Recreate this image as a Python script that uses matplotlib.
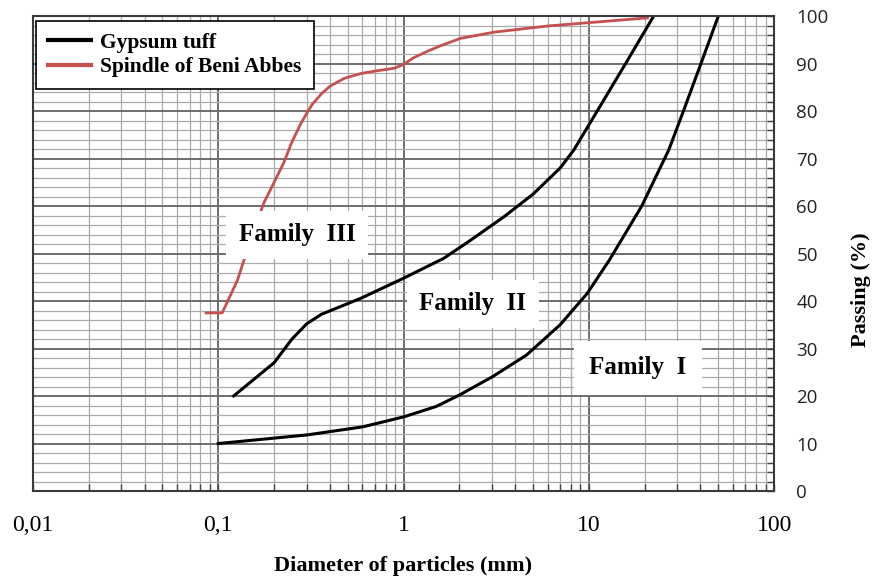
import numpy as np
import matplotlib
matplotlib.use("Agg")
import matplotlib.pyplot as plt
from matplotlib.ticker import FixedLocator, NullFormatter

# grading curves, diameter (mm) vs passing (%)
fam1_d = [0.1, 0.3, 0.6, 1.0, 1.5, 2.0, 3.0, 4.6, 7.0, 9.8, 12.9, 19.3, 27.0, 32.4, 40.3, 50.0]
fam1_p = [10.0, 11.8, 13.5, 15.6, 17.8, 20.2, 24.0, 28.6, 35.0, 41.6, 48.6, 60.0, 71.8, 80.0, 90.0, 100.0]

fam2_d = [0.121, 0.2, 0.25, 0.3, 0.36, 0.59, 1.0, 1.65, 2.3, 3.5, 5.0, 7.0, 8.3, 11.1, 15.8, 22.4]
fam2_p = [20.0, 27.0, 32.0, 35.2, 37.2, 40.6, 44.8, 49.0, 52.8, 57.8, 62.5, 68.0, 71.8, 80.0, 90.0, 100.0]

beni_d = [0.086, 0.105, 0.127, 0.149, 0.176, 0.225, 0.25, 0.28, 0.32, 0.36, 0.40, 0.48,
          0.59, 0.70, 0.89, 1.0, 1.13, 1.35, 1.6, 2.03, 3.08, 6.0, 10.0, 20.7]
beni_p = [37.5, 37.5, 44.4, 52.8, 60.6, 69.0, 73.5, 77.5, 81.3, 83.6, 85.2, 86.9,
          87.9, 88.4, 89.0, 89.8, 91.2, 92.6, 93.8, 95.3, 96.6, 97.9, 98.6, 99.6]

xticks = [0.01, 0.1, 1, 10, 100]
xtick_labels = ["0,01", "0,1", "1", "10", "100"]
yticks = list(range(0, 101, 10))

fig = plt.figure(figsize=(8.75, 5.8), dpi=100)
ax = fig.add_axes([0.0377, 0.1534, 0.847, 0.819])

ax.set_xscale("log")
ax.set_xlim(0.01, 100)
ax.set_ylim(0, 100)

# log grid: decades dark, 2..9 lighter; y every 10 and every 2
minor_x = [m * 10.0 ** e for e in range(-2, 2) for m in range(2, 10)]
ax.xaxis.set_major_locator(FixedLocator(xticks))
ax.xaxis.set_minor_locator(FixedLocator(minor_x))
ax.xaxis.set_minor_formatter(NullFormatter())
ax.set_xticklabels(xtick_labels)
ax.set_yticks(yticks)
ax.yaxis.set_minor_locator(FixedLocator(np.arange(0, 101, 2)))

ax.grid(which="major", color="#6e6e6e", lw=1.4)
ax.grid(which="minor", color="#aaaaaa", lw=0.9)
ax.set_axisbelow(True)

ax.yaxis.tick_right()
ax.yaxis.set_label_position("right")
ax.tick_params(axis="x", which="both", direction="in", length=5, width=1, color="#444444",
               pad=17, labelsize=17)
ax.tick_params(axis="y", which="both", direction="in", length=5, width=1, color="#444444",
               pad=16, labelsize=13.5)
for lab in ax.get_xticklabels():
    lab.set_fontfamily("Liberation Serif")
for lab in ax.get_yticklabels():
    lab.set_fontfamily("Open Sans")
    lab.set_color("#222222")
for sp in ax.spines.values():
    sp.set_color("#3a3a3a")
    sp.set_linewidth(1.5)

ax.plot(fam1_d, fam1_p, color="black", lw=2.2, label="Gypsum tuff")
ax.plot(fam2_d, fam2_p, color="black", lw=2.2)
ax.plot(beni_d, beni_p, color="#c4504f", lw=2.0, label="Spindle of Beni Abbes")

box = dict(facecolor="white", edgecolor="none", pad=9)
lab_font = dict(family="Liberation Serif", weight="bold", size=18, ha="center", va="center")
ax.text(0.267, 53.9, "Family  III", bbox=box, **lab_font)
ax.text(2.36, 39.4, "Family  II", bbox=box, **lab_font)
ax.text(18.4, 25.9, "Family  I", bbox=dict(facecolor="white", edgecolor="none", pad=11), **lab_font)

leg = ax.legend(loc="upper left", bbox_to_anchor=(0.001, 0.994), frameon=True, fancybox=False,
                edgecolor="black", framealpha=1, borderpad=0.55, labelspacing=0.2,
                handlelength=2.0, handletextpad=0.45, borderaxespad=0.1,
                prop=dict(family="Liberation Serif", weight="bold", size=15.5))
leg.get_frame().set_linewidth(1.2)
for h in leg.get_lines():
    h.set_linewidth(3)

ax.set_xlabel("Diameter of particles (mm)", family="Liberation Serif", weight="bold",
              size=16, labelpad=15)
ax.set_ylabel("Passing (%)", family="Liberation Serif", weight="bold", size=16, labelpad=16)
ax.yaxis.label.set_y(0.423)

fig.savefig("out.png", dpi=100)
